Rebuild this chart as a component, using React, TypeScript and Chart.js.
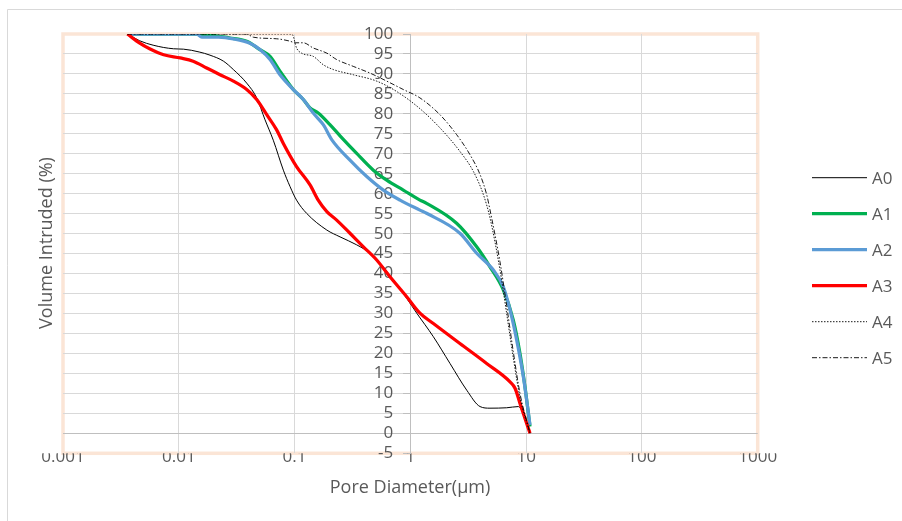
import React, { useEffect, useRef } from "react";
import { Chart, registerables } from "chart.js";
Chart.register(...registerables);

const X_TICKS = [0.001, 0.01, 0.1, 1, 10, 100, 1000];
const Y_MIN = -5;
const Y_MAX = 100;
const Y_STEP = 5;
const Y_AXIS_CROSS = 1;
const SERIES_NAMES = ["A0", "A1", "A2", "A3", "A4", "A5"];
const X_TITLE = "Pore Diameter(μm)";
const Y_TITLE = "Volume Intruded (%)";

const A0_D = [0.0036, 0.0046, 0.006, 0.009, 0.011, 0.015, 0.0186, 0.0243, 0.0296, 0.0386, 0.0471, 0.0556, 0.0655, 0.08, 0.0914, 0.104, 0.127, 0.19, 0.247, 0.344, 0.449, 0.547, 0.713, 0.93, 1.135, 1.58, 2.2, 3.07, 4.0, 4.87, 6.79, 8.55, 9.46, 10.8];
const A0_V = [100, 98.3, 97.2, 96.3, 96.2, 95.5, 94.7, 93.2, 91.1, 87.7, 84.0, 78.5, 73.4, 65.9, 61.8, 58.4, 55.1, 50.9, 49.2, 47.2, 45.1, 42.6, 38.4, 33.8, 30.1, 24.2, 17.5, 10.8, 6.7, 6.3, 6.4, 6.7, 5.0, 0.5];

const A1_D = [0.0036, 0.0143, 0.0277, 0.0386, 0.0502, 0.0614, 0.0748, 0.0975, 0.119, 0.136, 0.16, 0.202, 0.247, 0.344, 0.479, 0.625, 0.869, 1.21, 1.38, 2.51, 3.74, 4.87, 6.35, 7.74, 8.85, 9.77, 10.8];
const A1_V = [100, 100, 99.0, 98.2, 96.1, 94.4, 90.7, 86.1, 83.6, 81.5, 80.2, 77.3, 74.5, 70.1, 65.9, 63.4, 60.9, 58.4, 57.6, 52.6, 46.7, 41.7, 35.9, 28.4, 20.0, 11.7, 1.7];

const A2_D = [0.0036, 0.0143, 0.0158, 0.022, 0.0296, 0.0412, 0.0502, 0.0614, 0.0748, 0.0975, 0.119, 0.145, 0.177, 0.21, 0.301, 0.42, 0.585, 0.814, 1.21, 1.38, 2.68, 3.74, 5.21, 6.35, 7.26, 8.28, 9.46, 10.8];
const A2_V = [100, 100, 99.2, 99.2, 98.8, 97.7, 96.1, 93.6, 89.8, 86.1, 83.6, 80.2, 77.3, 73.5, 68.4, 64.3, 60.9, 58.4, 55.9, 55.1, 50.1, 45.1, 40.9, 36.7, 30.9, 23.4, 14.2, 2.1];

const A3_D = [0.0036, 0.0046, 0.0056, 0.0074, 0.0103, 0.0133, 0.0174, 0.0227, 0.0296, 0.0386, 0.0471, 0.0575, 0.07, 0.08, 0.104, 0.136, 0.16, 0.19, 0.231, 0.301, 0.393, 0.512, 0.667, 0.93, 1.21, 1.58, 2.68, 4.56, 7.26, 8.02, 8.85, 10.8];
const A3_V = [100, 97.7, 96.3, 94.8, 94.0, 93.2, 91.5, 89.8, 88.2, 86.1, 83.6, 79.8, 76.0, 72.6, 66.8, 62.2, 58.4, 55.5, 53.4, 50.1, 46.7, 43.4, 39.2, 34.2, 30.1, 27.5, 22.5, 17.5, 12.9, 11.3, 7.5, 0];

const A4_D = [0.0036, 0.0914, 0.096, 0.104, 0.115, 0.145, 0.177, 0.216, 0.321, 0.512, 0.762, 1.21, 1.8, 2.68, 3.5, 4.27, 4.87, 5.94, 6.79, 7.74, 8.85, 10.8];
const A4_V = [100, 100, 99.8, 96.5, 95.2, 94.4, 92.3, 91.1, 89.8, 88.2, 85.6, 81.3, 76.5, 70.6, 65.6, 59.8, 54, 41, 30, 19, 9, 0];

const A5_D = [0.0036, 0.0386, 0.044, 0.0701, 0.0914, 0.101, 0.119, 0.145, 0.19, 0.231, 0.321, 0.449, 0.625, 0.869, 1.21, 1.8, 2.51, 3.27, 4.0, 4.56, 4.87, 5.94, 6.79, 7.74, 8.85, 10.8];
const A5_V = [100, 100, 99.2, 98.8, 98.2, 97.8, 97.8, 96.5, 95.2, 93.6, 91.9, 90.2, 88.2, 86.1, 84.0, 79.8, 74.8, 69.8, 64.8, 59.8, 56, 43, 32, 20.5, 10, 0];

const FONT = "'Open Sans', 'Noto Sans', sans-serif";
const TEXT = "#595959";

export default function App() {
  const ref = useRef<HTMLCanvasElement>(null);
  useEffect(() => {
    const canvas = ref.current!;
    const styles = [
      { color: "#000000", width: 1, dash: [] as number[] },
      { color: "#00B050", width: 3.25, dash: [] as number[] },
      { color: "#5B9BD5", width: 3.25, dash: [] as number[] },
      { color: "#FF0000", width: 3.25, dash: [] as number[] },
      { color: "#000000", width: 0.9, dash: [1.5, 1.5] },
      { color: "#000000", width: 0.9, dash: [5, 2, 1.5, 2] },
    ];
    const pairs = [
      [A0_D, A0_V],
      [A1_D, A1_V],
      [A2_D, A2_V],
      [A3_D, A3_V],
      [A4_D, A4_V],
      [A5_D, A5_V],
    ];
    const datasets = pairs.map(([d, v], i) => ({
      label: SERIES_NAMES[i],
      data: d.map((x, j) => ({ x, y: v[j] })),
      showLine: true,
      borderColor: styles[i].color,
      backgroundColor: styles[i].color,
      borderWidth: styles[i].width,
      borderDash: styles[i].dash,
      pointRadius: 0,
      cubicInterpolationMode: "monotone" as const,
      fill: false,
      order: 5 - i,
      yAxisID: "y",
    }));

    const framePlugin = {
      id: "frame",
      beforeDraw(chart: any) {
        const c = chart.ctx;
        const a = chart.chartArea;
        c.save();
        c.fillStyle = "#ffffff";
        c.fillRect(0, 0, chart.width, chart.height);
        c.strokeStyle = "#D9D9D9";
        c.lineWidth = 1;
        c.beginPath();
        c.moveTo(7.5, chart.height + 2);
        c.lineTo(7.5, 9.5);
        c.lineTo(chart.width + 2, 9.5);
        c.stroke();
        c.strokeStyle = "#FBE5D6";
        c.lineWidth = 3.5;
        c.strokeRect(a.left, a.top, a.right - a.left, a.bottom - a.top);
        c.restore();
      },
      afterDraw(chart: any) {
        const c = chart.ctx;
        c.save();
        c.fillStyle = TEXT;
        c.font = `18px ${FONT}`;
        c.textAlign = "center";
        c.textBaseline = "middle";
        c.fillText(X_TITLE, 410, 488);
        c.translate(47, 243);
        c.rotate(-Math.PI / 2);
        c.fillText(Y_TITLE, 0, 0);
        c.restore();
        // legend
        c.save();
        chart.data.datasets.forEach((ds: any, i: number) => {
          const y = 177.7 + 36 * i;
          c.strokeStyle = ds.borderColor;
          c.lineWidth = ds.borderWidth;
          c.setLineDash(ds.borderDash || []);
          c.beginPath();
          c.moveTo(812, y);
          c.lineTo(867, y);
          c.stroke();
          c.setLineDash([]);
          c.fillStyle = TEXT;
          c.font = `17px ${FONT}`;
          c.textAlign = "left";
          c.textBaseline = "middle";
          c.fillText(ds.label, 872, y + 1);
        });
        c.restore();
      },
    };

    const tickFont = { family: FONT, size: 17 };

    const chart = new Chart(canvas, {
      type: "scatter",
      data: { datasets: datasets as any },
      options: {
        animation: false,
        responsive: false,
        events: [],
        layout: { padding: { left: 63, top: 34, right: 144.3, bottom: 0 } },
        plugins: { legend: { display: false }, tooltip: { enabled: false } },
        scales: {
          x: {
            type: "logarithmic",
            position: "bottom",
            min: 0.001,
            max: 1000,
            afterBuildTicks: (s: any) => {
              s.ticks = X_TICKS.map((v) => ({ value: v }));
            },
            afterFit: (s: any) => {
              s.height = 521 - 453.3;
            },
            grid: {
              color: (ctx: any) =>
                ctx.index === 0 || ctx.index === X_TICKS.length - 1 ? "rgba(0,0,0,0)" : "#D9D9D9",
              lineWidth: 1,
              drawTicks: false,
            },
            border: { display: false },
            ticks: {
              padding: -6,
              color: TEXT,
              font: tickFont,
              maxRotation: 0,
              autoSkip: false,
              callback: (v: any) => String(v),
            },
          },
          y: {
            type: "linear",
            position: { x: Y_AXIS_CROSS } as any,
            min: Y_MIN,
            max: Y_MAX,
            grid: {
              color: (ctx: any) => {
                const v = ctx.tick ? ctx.tick.value : null;
                if (v === Y_MIN || v === Y_MAX) return "rgba(0,0,0,0)";
                return v === 0 ? "#BFBFBF" : "#D9D9D9";
              },
              lineWidth: 1,
              drawTicks: true,
              tickLength: 7,
              tickColor: "#BFBFBF",
            },
            border: { display: true, color: "#BFBFBF", width: 1 },
            ticks: {
              stepSize: Y_STEP,
              autoSkip: false,
              display: false,
            },
          },
          yLabels: {
            type: "linear",
            position: { x: 0.71 } as any,
            min: Y_MIN,
            max: Y_MAX,
            grid: { display: false, drawTicks: false },
            border: { display: false },
            ticks: {
              stepSize: Y_STEP,
              autoSkip: false,
              padding: 0,
              color: TEXT,
              font: tickFont,
            },
          },
        },
      },
      plugins: [framePlugin],
    });
    return () => chart.destroy();
  }, []);

  return (
    <div style={{ position: "fixed", left: 0, top: 0, width: 902, height: 521 }}>
      <canvas ref={ref} width={902} height={521} style={{ display: "block" }} />
    </div>
  );
}
